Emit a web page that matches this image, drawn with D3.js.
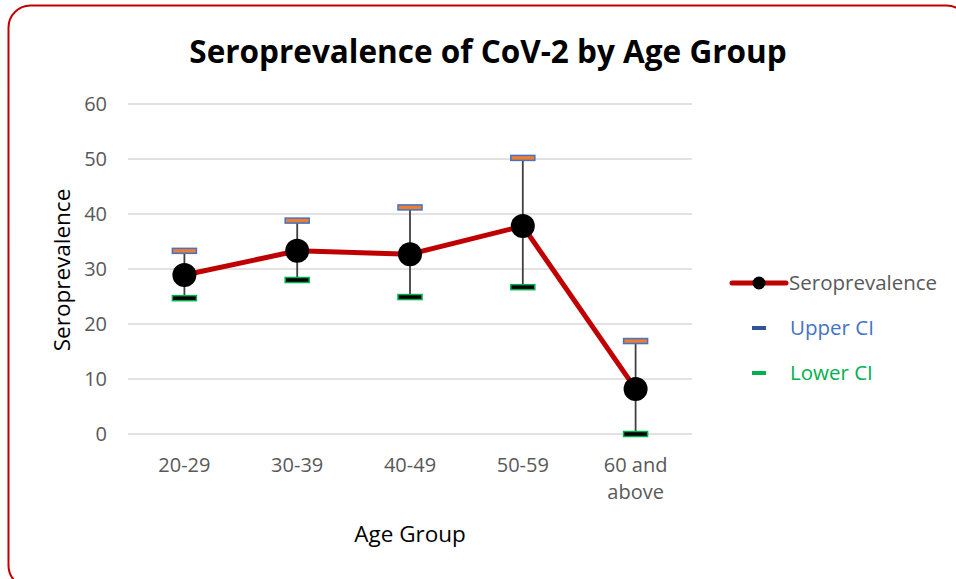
<!DOCTYPE html>
<html lang="en">
<head>
<meta charset="utf-8">
<title>Seroprevalence of CoV-2 by Age Group</title>
<script src="https://d3js.org/d3.v7.min.js"></script>
<style>
  body { margin: 0; background: #fff; }
  svg, svg text { font-family: "Open Sans", "Noto Sans", sans-serif; }
  .grid line { stroke: #d9d9d9; stroke-width: 1.5; }
  .tick text { fill: #595959; font-size: 20px; font-family: "Open Sans", sans-serif; }
</style>
</head>
<body>
<script>
var categories = ["20-29", "30-39", "40-49", "50-59", "60 and above"];
var seroprevalence = [28.9, 33.3, 32.7, 37.8, 8.2];
var upperCI = [33.3, 38.8, 41.2, 50.2, 16.9];
var lowerCI = [24.7, 28.0, 24.9, 26.7, 0.0];
var yTicks = [0, 10, 20, 30, 40, 50, 60];

var width = 956, height = 579;
var svg = d3.select("body").append("svg")
    .attr("width", width)
    .attr("height", height);

// rounded chart border
svg.append("rect")
    .attr("x", 8.5).attr("y", 5.5)
    .attr("width", 960).attr("height", 582)
    .attr("rx", 22).attr("ry", 22)
    .attr("fill", "#fff")
    .attr("stroke", "#c00000")
    .attr("stroke-width", 2);

var plot = { left: 128, right: 692, top: 104, bottom: 434 };

var x = d3.scaleBand()
    .domain(categories)
    .range([plot.left, plot.right]);
var y = d3.scaleLinear()
    .domain([0, 60])
    .range([plot.bottom, plot.top]);
var cx = function(d) { return x(d) + x.bandwidth() / 2; };

// title
svg.append("text")
    .attr("x", 488).attr("y", 63)
    .attr("text-anchor", "middle")
    .style("font-size", "31.5px")
    .style("font-weight", "bold")
    .style("fill", "#000")
    .text("Seroprevalence of CoV-2 by Age Group");

// gridlines
svg.append("g")
    .attr("class", "grid")
    .selectAll("line")
    .data(yTicks)
  .enter().append("line")
    .attr("x1", plot.left).attr("x2", plot.right)
    .attr("y1", function(d) { return y(d); })
    .attr("y2", function(d) { return y(d); });

// y axis labels
var yAxis = svg.append("g")
    .attr("transform", "translate(" + plot.left + ",0)")
    .call(d3.axisLeft(y).tickValues(yTicks).tickSize(0).tickPadding(21));
yAxis.select(".domain").remove();
yAxis.attr("font-family", null).attr("font-size", null);

// x axis labels
var xAxis = svg.append("g")
    .attr("transform", "translate(0," + plot.bottom + ")")
    .call(d3.axisBottom(x).tickSize(0).tickPadding(24));
xAxis.select(".domain").remove();
xAxis.attr("font-family", null).attr("font-size", null);
xAxis.selectAll(".tick text").each(function(d) {
  var words = d.split(" ");
  if (words.length > 2) {
    var t = d3.select(this).text(null);
    t.append("tspan").attr("x", 0).attr("dy", "0.71em").text(words.slice(0, 2).join(" "));
    t.append("tspan").attr("x", 0).attr("dy", "1.35em").text(words.slice(2).join(" "));
  }
});

// axis titles
svg.append("text")
    .attr("x", 410).attr("y", 542)
    .attr("text-anchor", "middle")
    .style("font-size", "22.5px")
    .style("fill", "#000")
    .text("Age Group");
svg.append("text")
    .attr("transform", "translate(70," + ((plot.top + plot.bottom) / 2 + 1) + ") rotate(-90)")
    .attr("text-anchor", "middle")
    .style("font-size", "22.5px")
    .style("fill", "#000")
    .text("Seroprevalence");

// error bars (lower to upper)
svg.append("g")
    .selectAll("line")
    .data(categories)
  .enter().append("line")
    .attr("x1", cx).attr("x2", cx)
    .attr("y1", function(d, i) { return y(lowerCI[i]); })
    .attr("y2", function(d, i) { return y(upperCI[i]); })
    .attr("stroke", "#404040")
    .attr("stroke-width", 1.8);

// seroprevalence line
var line = d3.line()
    .x(function(d, i) { return cx(categories[i]); })
    .y(function(d) { return y(d); });
svg.append("path")
    .datum(seroprevalence)
    .attr("d", line)
    .attr("fill", "none")
    .attr("stroke", "#c00000")
    .attr("stroke-width", 5);

svg.append("g")
    .selectAll("circle")
    .data(seroprevalence)
  .enter().append("circle")
    .attr("cx", function(d, i) { return cx(categories[i]); })
    .attr("cy", function(d) { return y(d); })
    .attr("r", 12)
    .attr("fill", "#000");

// CI markers (dash symbols)
function dashes(values, fill, edge) {
  svg.append("g")
      .selectAll("rect")
      .data(values)
    .enter().append("rect")
      .attr("x", function(d, i) { return cx(categories[i]) - 12; })
      .attr("y", function(d) { return y(d) - 2.5; })
      .attr("width", 24).attr("height", 5)
      .attr("fill", fill)
      .attr("stroke", edge)
      .attr("stroke-width", 1.5);
}
dashes(upperCI, "#ed7d31", "#4472c4");
dashes(lowerCI, "#000", "#00b050");

// legend
var lg = svg.append("g");
lg.append("line")
    .attr("x1", 732).attr("x2", 786)
    .attr("y1", 283).attr("y2", 283)
    .attr("stroke", "#c00000").attr("stroke-width", 5)
    .attr("stroke-linecap", "round");
lg.append("circle").attr("cx", 759).attr("cy", 283).attr("r", 6.5).attr("fill", "#000");
lg.append("text").attr("x", 789).attr("y", 290)
    .style("font-size", "20.5px").style("fill", "#595959").text("Seroprevalence");

lg.append("rect").attr("x", 752).attr("y", 326).attr("width", 14).attr("height", 4).attr("fill", "#2f5597");
lg.append("text").attr("x", 790).attr("y", 335)
    .style("font-size", "20.5px").style("fill", "#4472c4").text("Upper CI");

lg.append("rect").attr("x", 752).attr("y", 371).attr("width", 14).attr("height", 4).attr("fill", "#00b050");
lg.append("text").attr("x", 790).attr("y", 380)
    .style("font-size", "20.5px").style("fill", "#00b050").text("Lower CI");
</script>
</body>
</html>
